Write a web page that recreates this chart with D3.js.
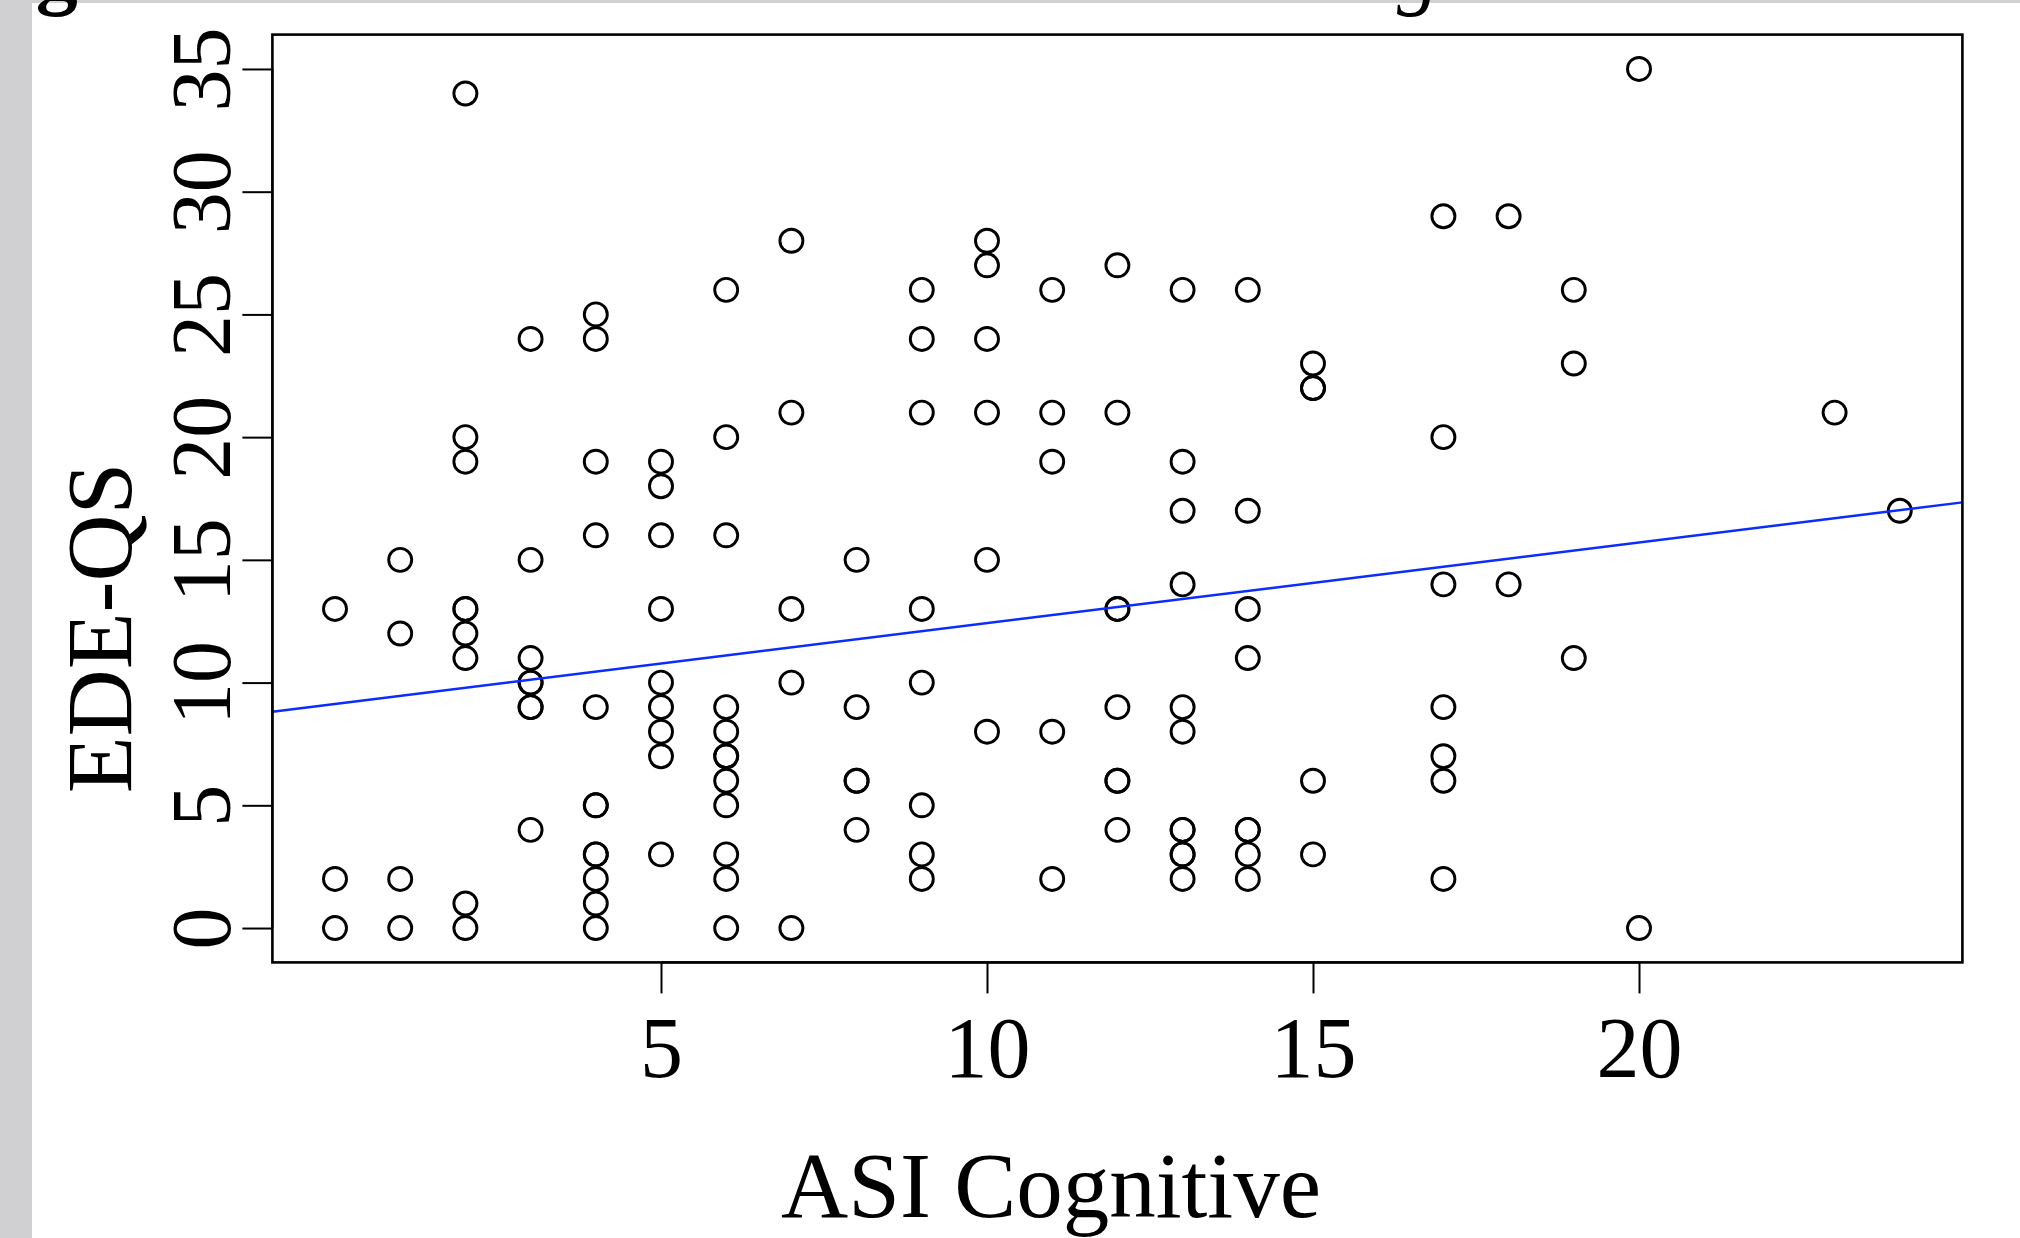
<!DOCTYPE html>
<html>
<head>
<meta charset="utf-8">
<script src="https://cdn.jsdelivr.net/npm/d3@7"></script>
<style>
  body { margin: 0; background: #fff; }
  svg { display: block; }
</style>
</head>
<body>
<div id="chart"></div>
<script>
// ASI Cognitive (x) and EDE-QS (y), one row per x value
const asiCognitive = [
  0, 0, 0,
  1, 1, 1, 1,
  2, 2, 2, 2, 2, 2, 2, 2, 2,
  3, 3, 3, 3, 3, 3, 3, 3,
  4, 4, 4, 4, 4, 4, 4, 4, 4, 4, 4, 4,
  5, 5, 5, 5, 5, 5, 5, 5, 5,
  6, 6, 6, 6, 6, 6, 6, 6, 6, 6, 6, 6,
  7, 7, 7, 7, 7,
  8, 8, 8, 8, 8,
  9, 9, 9, 9, 9, 9, 9, 9,
  10, 10, 10, 10, 10, 10,
  11, 11, 11, 11, 11,
  12, 12, 12, 12, 12, 12, 12, 12,
  13, 13, 13, 13, 13, 13, 13, 13, 13, 13, 13,
  14, 14, 14, 14, 14, 14, 14, 14,
  15, 15, 15, 15, 15,
  17, 17, 17, 17, 17, 17, 17,
  18, 18,
  19, 19, 19,
  20, 20,
  23,
  24
];
const edeQS = [
  13, 2, 0,
  15, 12, 2, 0,
  34, 20, 19, 13, 13, 12, 11, 1, 0,
  24, 15, 11, 10, 10, 9, 9, 4,
  25, 24, 19, 16, 9, 5, 5, 3, 3, 2, 1, 0,
  19, 18, 16, 13, 10, 9, 8, 7, 3,
  26, 20, 16, 9, 8, 7, 7, 6, 5, 3, 2, 0,
  28, 21, 13, 10, 0,
  15, 9, 6, 6, 4,
  26, 24, 21, 13, 10, 5, 3, 2,
  28, 27, 24, 21, 15, 8,
  26, 21, 19, 8, 2,
  27, 21, 13, 13, 9, 6, 6, 4,
  26, 19, 17, 14, 9, 8, 4, 4, 3, 3, 2,
  26, 17, 13, 11, 4, 4, 3, 2,
  23, 22, 22, 6, 3,
  29, 20, 14, 9, 7, 6, 2,
  29, 14,
  26, 23, 11,
  35, 0,
  21,
  17
];
const xTicks = [5, 10, 15, 20];
const yTicks = [0, 5, 10, 15, 20, 25, 30, 35];
// fitted line
const fitIntercept = 9.13;
const fitSlope = 0.329;

const points = asiCognitive.map((d, i) => ({ x: d, y: edeQS[i] }));

const width = 2020, height = 1238;
const margin = { top: 34.6, right: 57.6, bottom: 275.6, left: 272.4 };
const font = "'Liberation Serif', 'Times New Roman', serif";

const svg = d3.select("#chart").append("svg")
  .attr("width", width)
  .attr("height", height);

svg.append("rect").attr("width", width).attr("height", height).attr("fill", "#fff");

// page edges seen in the screenshot
svg.append("rect").attr("x", 0).attr("y", 0).attr("width", 32).attr("height", height).attr("fill", "#d0cfd1");
svg.append("rect").attr("x", 0).attr("y", 0).attr("width", width).attr("height", 3).attr("fill", "#d0cfd1");

// caption, mostly cut off at the top
const cap = svg.append("text")
  .attr("x", -39)
  .attr("y", -1)
  .style("font-family", font)
  .style("font-size", "84px")
  .style("word-spacing", "29px");
cap.append("tspan").style("font-weight", "bold").text("Figure 3. ");
cap.append("tspan").style("font-style", "italic").text("Correlation between ASI Cognitive and EDE-QS");

const x = d3.scaleLinear()
  .domain([-0.96, 24.96])
  .range([margin.left, width - margin.right]);

const y = d3.scaleLinear()
  .domain([-1.4, 36.4])
  .range([height - margin.bottom, margin.top]);

svg.append("clipPath").attr("id", "plotClip")
  .append("rect")
  .attr("x", margin.left)
  .attr("y", margin.top)
  .attr("width", width - margin.left - margin.right)
  .attr("height", height - margin.top - margin.bottom);

// points
svg.append("g")
  .selectAll("circle")
  .data(points)
  .join("circle")
  .attr("cx", d => x(d.x))
  .attr("cy", d => y(d.y))
  .attr("r", 11.5)
  .attr("fill", "none")
  .attr("stroke", "#000")
  .attr("stroke-width", 2.9);

// regression line
const xr = x.domain();
svg.append("path")
  .datum(xr.map(v => [v, fitIntercept + fitSlope * v]))
  .attr("clip-path", "url(#plotClip)")
  .attr("d", d3.line().x(d => x(d[0])).y(d => y(d[1])))
  .attr("fill", "none")
  .attr("stroke", "#0a2cff")
  .attr("stroke-width", 2.5);

// box
svg.append("rect")
  .attr("x", margin.left)
  .attr("y", margin.top)
  .attr("width", width - margin.left - margin.right)
  .attr("height", height - margin.top - margin.bottom)
  .attr("fill", "none")
  .attr("stroke", "#000")
  .attr("stroke-width", 2.6);

// x axis
const gx = svg.append("g")
  .attr("transform", `translate(0,${height - margin.bottom})`)
  .call(d3.axisBottom(x).tickValues(xTicks).tickSize(31).tickFormat(d3.format("d")));
gx.select(".domain").attr("d", `M${x(xTicks[0])},0H${x(xTicks[xTicks.length - 1])}`).attr("stroke-width", 2);
gx.selectAll(".tick line").attr("stroke-width", 2);
gx.selectAll(".tick text")
  .attr("y", 115)
  .attr("dy", null)
  .attr("fill", "#000")
  .style("font-family", font)
  .style("font-size", "86px");

// y axis
const gy = svg.append("g")
  .attr("transform", `translate(${margin.left},0)`)
  .call(d3.axisLeft(y).tickValues(yTicks).tickSize(30).tickFormat(d3.format("d")));
gy.select(".domain").attr("d", `M0,${y(yTicks[0])}V${y(yTicks[yTicks.length - 1])}`).attr("stroke-width", 2);
gy.selectAll(".tick line").attr("stroke-width", 2);
gy.selectAll(".tick text")
  .attr("x", null)
  .attr("dy", null)
  .attr("text-anchor", "middle")
  .attr("transform", "translate(-42,0) rotate(-90)")
  .attr("fill", "#000")
  .style("font-family", font)
  .style("font-size", "84px");

// axis titles
svg.append("text")
  .attr("x", 1051)
  .attr("y", 1217)
  .attr("text-anchor", "middle")
  .style("font-family", font)
  .style("font-size", "93px")
  .text("ASI Cognitive");

svg.append("text")
  .attr("transform", "translate(131,628) rotate(-90)")
  .attr("text-anchor", "middle")
  .style("font-family", font)
  .style("font-size", "93px")
  .text("EDE-QS");
</script>
</body>
</html>
